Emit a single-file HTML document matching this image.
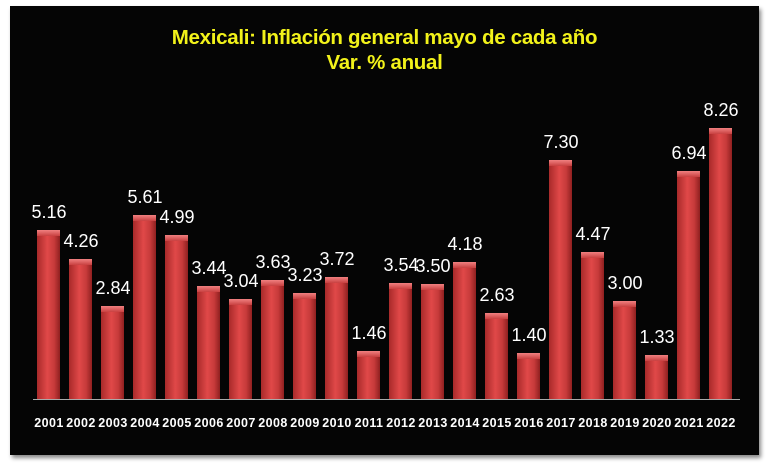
<!DOCTYPE html>
<html><head><style>
body{margin:0;width:770px;height:470px;background:#fff;position:relative;overflow:hidden;font-family:"Liberation Sans",sans-serif}
#box{position:absolute;left:10px;top:6px;width:749px;height:449px;background:#050505;box-shadow:2px 3px 4px #888}
.t{position:absolute;left:10px;width:749px;text-align:center;color:#f2f21a;font-weight:bold;font-size:20.5px;letter-spacing:-0.3px}
.bar{position:absolute;width:23px;background:linear-gradient(90deg,#a82a2a,#e04848 45%,#c63a3a 75%,#8f2020)}
.bar:before{content:"";position:absolute;left:0;top:0;width:23px;height:6px;background:linear-gradient(#f08080,#c84040)}
.v{position:absolute;width:60px;text-align:center;color:#fff;font-size:18px}
.y{position:absolute;top:416px;width:40px;text-align:center;color:#fff;font-size:12.5px;font-weight:bold;letter-spacing:0.4px}
#ax{position:absolute;left:33px;top:399px;width:707px;height:1px;background:#aaa}
</style></head><body>
<div id="box"></div>
<div class="t" style="top:26px">Mexicali: Inflación general mayo de cada año</div>
<div class="t" style="top:51px">Var. % anual</div>
<div id="ax"></div>
<div id="c"></div>
<script>
var d=[5.16,4.26,2.84,5.61,4.99,3.44,3.04,3.63,3.23,3.72,1.46,3.54,3.50,4.18,2.63,1.40,7.30,4.47,3.00,1.33,6.94,8.26];
var h="";
d.forEach(function(v,i){var x=37+i*32,top=399-v*32.8;
h+='<div class="bar" style="left:'+x+'px;top:'+top+'px;height:'+(399-top)+'px"></div>';
h+='<div class="v" style="left:'+(x-18)+'px;top:'+(top-28)+'px">'+v.toFixed(2)+'</div>';
h+='<div class="y" style="left:'+(x-8)+'px">'+(2001+i)+'</div>';});
document.getElementById("c").innerHTML=h;
</script>
</body></html>
